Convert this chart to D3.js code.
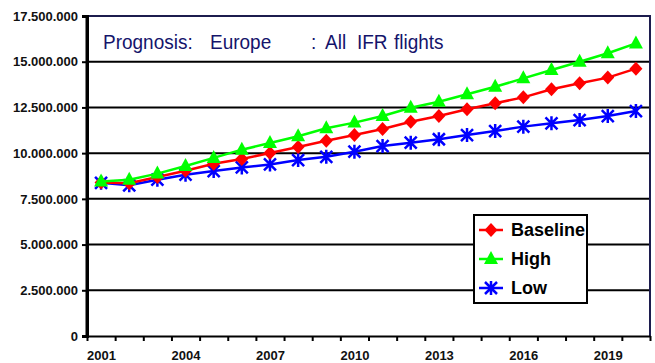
<!DOCTYPE html>
<html>
<head>
<meta charset="utf-8">
<script src="https://cdn.jsdelivr.net/npm/d3@7"></script>
<style>
  html, body { margin: 0; padding: 0; background: #fff; }
  svg { display: block; font-family: Arial, "Liberation Sans", sans-serif; }
</style>
</head>
<body>
<svg id="chart" width="655" height="363"></svg>
<script>
// Forecast years and IFR flight counts per scenario
const years = [2001, 2002, 2003, 2004, 2005, 2006, 2007, 2008, 2009, 2010,
               2011, 2012, 2013, 2014, 2015, 2016, 2017, 2018, 2019, 2020];
const baseline = [8400000, 8350000, 8700000, 9040000, 9420000, 9680000, 10010000, 10340000, 10680000, 10990000,
                  11320000, 11720000, 12030000, 12400000, 12730000, 13050000, 13490000, 13820000, 14130000, 14620000];
const high = [8450000, 8550000, 8880000, 9300000, 9740000, 10190000, 10550000, 10920000, 11360000, 11670000,
              12030000, 12480000, 12810000, 13220000, 13630000, 14090000, 14550000, 15000000, 15460000, 16000000];
const low = [8380000, 8240000, 8550000, 8820000, 9020000, 9220000, 9380000, 9620000, 9800000, 10080000,
             10390000, 10570000, 10760000, 10990000, 11210000, 11450000, 11630000, 11810000, 12030000, 12300000];
const yTicks = [0, 2500000, 5000000, 7500000, 10000000, 12500000, 15000000, 17500000];
const xLabelYears = [2001, 2004, 2007, 2010, 2013, 2016, 2019];
const seriesNames = ["Baseline", "High", "Low"];
const seriesColors = ["#ff0000", "#00ff00", "#0000ff"];
const seriesMarkers = ["diamond", "triangle", "asterisk"];

const svg = d3.select("#chart");
const plotLeft = 87, plotRight = 650, plotTop = 16, plotBottom = 336;

const x = d3.scaleLinear().domain([years[0] - 0.5, years[years.length - 1] + 0.5]).range([plotLeft, plotRight]);
const y = d3.scaleLinear().domain([0, 17500000]).range([plotBottom, plotTop]);

const locale = d3.formatLocale({ decimal: ",", thousands: ".", grouping: [3], currency: ["", ""] });
const fmt = locale.format(",d");

// Horizontal gridlines
svg.append("g")
  .selectAll("line")
  .data(yTicks.filter(v => v > 0 && v < 17500000))
  .join("line")
  .attr("x1", plotLeft).attr("x2", plotRight)
  .attr("y1", d => y(d)).attr("y2", d => y(d))
  .attr("stroke", "#000").attr("stroke-width", 2);

// Frame: top and right edges
svg.append("path")
  .attr("d", `M${plotLeft},${plotTop}H${plotRight}V${plotBottom}`)
  .attr("fill", "none").attr("stroke", "#1c1c4e").attr("stroke-width", 2);

// Y axis
const yAxis = svg.append("g")
  .attr("transform", `translate(${plotLeft},0)`)
  .call(d3.axisLeft(y).tickValues(yTicks).tickFormat(fmt).tickSize(5).tickPadding(4));
yAxis.select(".domain").attr("stroke", "#000").attr("stroke-width", 3);
yAxis.selectAll(".tick line").attr("stroke", "#000").attr("stroke-width", 2);
yAxis.selectAll(".tick text")
  .attr("font-size", 13).attr("font-weight", "bold").attr("fill", "#111")
  .attr("font-family", "Arial, 'Liberation Sans', sans-serif");

// X axis: tick marks at category boundaries
const boundaries = d3.range(years.length + 1).map(i => years[0] - 0.5 + i);
const xAxis = svg.append("g")
  .attr("transform", `translate(0,${plotBottom})`)
  .call(d3.axisBottom(x).tickValues(boundaries).tickFormat("").tickSize(5).tickSizeOuter(0));
xAxis.select(".domain").attr("stroke", "#000").attr("stroke-width", 2);
xAxis.selectAll(".tick line").attr("stroke", "#000").attr("stroke-width", 2);

// X labels centred on their categories
const xLab = svg.append("g")
  .attr("transform", `translate(0,${plotBottom})`)
  .call(d3.axisBottom(x).tickValues(xLabelYears).tickFormat(d3.format("d")).tickSize(0).tickPadding(15));
xLab.select(".domain").remove();
xLab.selectAll(".tick text")
  .attr("font-size", 13).attr("font-weight", "bold").attr("fill", "#111")
  .attr("font-family", "Arial, 'Liberation Sans', sans-serif");

// Left axis line on top
svg.append("line")
  .attr("x1", plotLeft).attr("x2", plotLeft).attr("y1", plotTop - 1).attr("y2", plotBottom + 1)
  .attr("stroke", "#000").attr("stroke-width", 3);

// Title (slightly tall lettering)
const title = svg.append("text")
  .attr("transform", "translate(0,49) scale(1,1.1)")
  .attr("font-size", 19).attr("fill", "#14146b");
[["Prognosis:", 103], ["Europe", 210], [":", 311], ["All", 325], ["IFR", 357], ["flights", 394]]
  .forEach(([t, px]) => title.append("tspan").attr("x", px).text(t));

// Marker drawing
function drawMarker(g, type, color, cx, cy) {
  if (type === "diamond") {
    g.append("path")
      .attr("d", `M${cx},${cy - 7}L${cx + 6.5},${cy}L${cx},${cy + 7}L${cx - 6.5},${cy}Z`)
      .attr("fill", color);
  } else if (type === "triangle") {
    g.append("path")
      .attr("d", `M${cx},${cy - 8}L${cx + 7},${cy + 5}L${cx - 7},${cy + 5}Z`)
      .attr("fill", color);
  } else {
    const r = 6;
    g.append("path")
      .attr("d", `M${cx - r},${cy - r}L${cx + r},${cy + r}M${cx - r},${cy + r}L${cx + r},${cy - r}M${cx},${cy - r - 1}L${cx},${cy + r + 1}`)
      .attr("stroke", color).attr("stroke-width", 2.5).attr("fill", "none");
  }
}

const allSeries = [baseline, high, low];
const line = d3.line().x((d, i) => x(years[i])).y(d => y(d));

// Draw lines, low first so that baseline and high sit above it
[2, 0, 1].forEach(si => {
  const g = svg.append("g");
  g.append("path")
    .datum(allSeries[si])
    .attr("d", line)
    .attr("fill", "none")
    .attr("stroke", seriesColors[si])
    .attr("stroke-width", 2.5);
  allSeries[si].forEach((v, i) => drawMarker(g, seriesMarkers[si], seriesColors[si], x(years[i]), y(v)));
});

// Legend
const lg = svg.append("g");
lg.append("rect")
  .attr("x", 474).attr("y", 215).attr("width", 113).attr("height", 88)
  .attr("fill", "#fff").attr("stroke", "#000").attr("stroke-width", 2);
seriesNames.forEach((name, i) => {
  const cy = 230 + i * 29;
  lg.append("line")
    .attr("x1", 479).attr("x2", 503).attr("y1", cy).attr("y2", cy)
    .attr("stroke", seriesColors[i]).attr("stroke-width", 2.5);
  drawMarker(lg, seriesMarkers[i], seriesColors[i], 491, cy);
  lg.append("text")
    .attr("x", 511).attr("y", cy + 6)
    .attr("font-size", 18).attr("font-weight", "bold").attr("fill", "#000")
    .text(name);
});
</script>
</body>
</html>
